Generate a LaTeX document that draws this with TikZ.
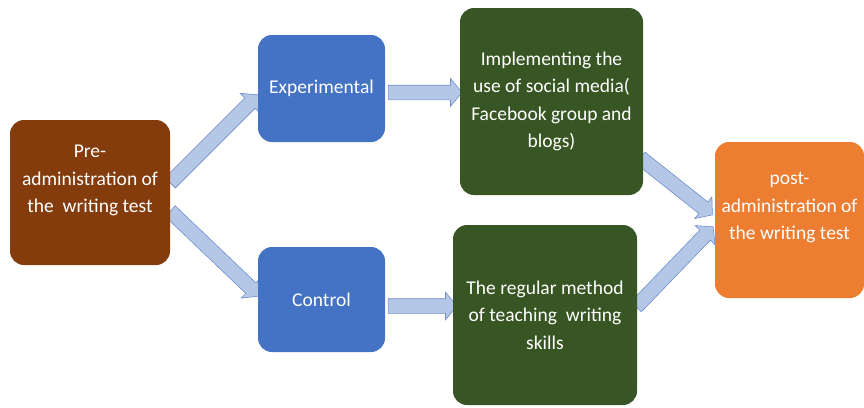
\documentclass[tikz,border=0pt]{standalone}
\usepackage{fontspec}
\setmainfont{Carlito}
\usepackage{tikz}
\usetikzlibrary{shapes.arrows, calc}

\definecolor{prebrown}{HTML}{843C0C}
\definecolor{groupblue}{HTML}{4472C4}
\definecolor{treatgreen}{HTML}{375623}
\definecolor{postorange}{HTML}{ED7D31}
\definecolor{arrowfill}{HTML}{B4C7E7}
\definecolor{arrowedge}{HTML}{6F8FC9}

% block arrow from one named point to another
\newcommand{\blockarrow}[2]{%
  \path let \p1=($(#2)-(#1)$), \n1={atan2(\y1,\x1)}, \n2={veclen(\x1,\y1)} in
    node[flow, minimum height=\n2, rotate=\n1] at ($(#1)!0.5!(#2)$) {};}

\begin{document}
\begin{tikzpicture}[
    x=1pt, y=-1pt,
    box/.style={rectangle, rounded corners=14pt, inner sep=0pt, align=center,
      text=white, font=\fontsize{19.5}{27.5}\selectfont},
    flow/.style={single arrow, draw=arrowedge, fill=arrowfill, line width=0.6pt,
      inner xsep=0pt, inner ysep=7pt, single arrow head extend=6.5pt,
      single arrow tip angle=100, outer sep=0pt}
]
    \useasboundingbox (0,0) rectangle (864,407);

    % arrow ends
    \coordinate (p1) at (168,185);  \coordinate (e1) at (256,97);
    \coordinate (p2) at (168,209);  \coordinate (c1) at (257,294);
    \coordinate (e2) at (385,92.5); \coordinate (s1) at (459,92.5);
    \coordinate (c2) at (385,306);  \coordinate (r1) at (454,306);
    \coordinate (s2) at (638,156);  \coordinate (q1) at (710,213);
    \coordinate (r2) at (634,309);  \coordinate (q2) at (711,229);

    % arrows go under the boxes
    \blockarrow{p1}{e1}
    \blockarrow{p2}{c1}
    \blockarrow{e2}{s1}
    \blockarrow{c2}{r1}
    \blockarrow{s2}{q1}
    \blockarrow{r2}{q2}

    \node[box, fill=prebrown, minimum width=160pt, minimum height=145pt] (pre) at (90,192.5)
      {Pre-\\administration of\\the\ \ writing test\\~};
    \node[box, fill=groupblue, minimum width=127pt, minimum height=107pt] (exp) at (321.5,88.5)
      {Experimental};
    \node[box, fill=groupblue, minimum width=127pt, minimum height=105pt] (ctrl) at (321.5,299.5)
      {Control};
    \node[box, fill=treatgreen, minimum width=183pt, minimum height=187pt] (social) at (551.5,101.5)
      {Implementing the\\use of social media(\\Facebook group and\\blogs)};
    \node[box, fill=treatgreen, minimum width=184pt, minimum height=180pt] (regular) at (545,315)
      {The regular method\\of teaching\ \ writing\\skills};
    \node[box, fill=postorange, minimum width=149pt, minimum height=156pt] (post) at (789.5,220)
      {post-\\administration of\\the writing test\\~};
\end{tikzpicture}
\end{document}
